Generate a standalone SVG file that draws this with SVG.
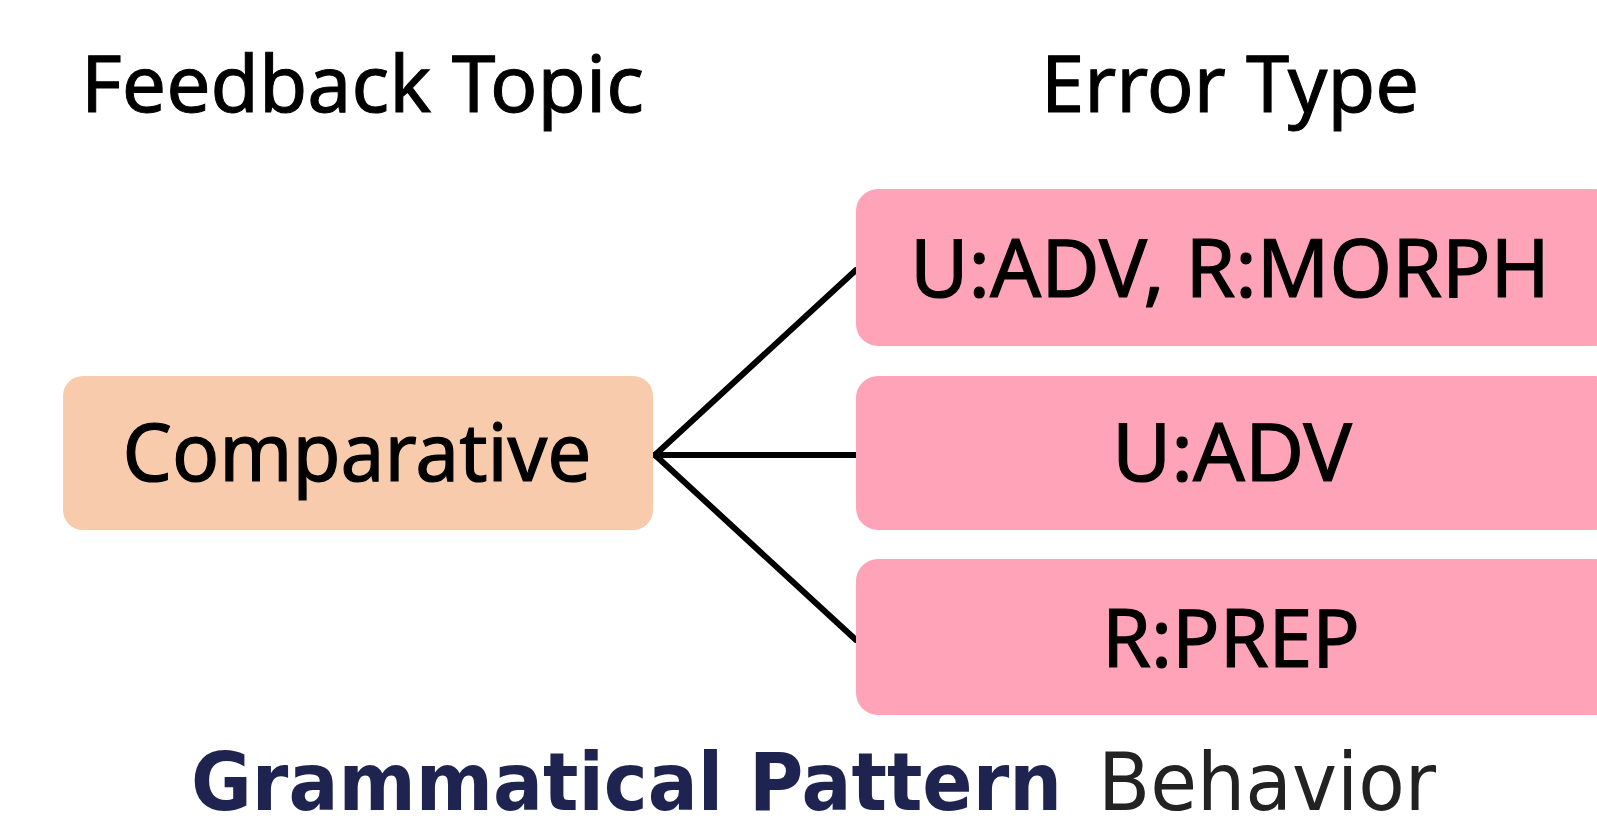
<svg xmlns="http://www.w3.org/2000/svg" width="1597" height="828" viewBox="0 0 1597 828">
  <style>
    .hdr { font-family: "Noto Sans", "Open Sans", sans-serif; font-size: 78px; fill: #000; stroke: #000; stroke-width: 1; }
    .lbl { font-family: "Noto Sans", "Open Sans", sans-serif; font-size: 80px; fill: #000; stroke: #000; stroke-width: 1.2; text-anchor: middle; }
    .topic { fill: #F8CBAD; }
    .err { fill: #FFA3B8; }
    .conn { stroke: #000; stroke-width: 6; fill: none; stroke-linecap: round; }
    .cap { font-family: "DejaVu Sans", Verdana, sans-serif; font-size: 80px; }
  </style>
  <rect width="1597" height="828" fill="#fff"/>

  <!-- column headings -->
  <text class="hdr" x="81" y="112" textLength="563" lengthAdjust="spacingAndGlyphs">Feedback Topic</text>
  <text class="hdr" x="1041" y="112" textLength="378" lengthAdjust="spacingAndGlyphs">Error Type</text>

  <!-- connectors from topic to error types -->
  <g id="connectors">
    <line class="conn" x1="655" y1="455" x2="856" y2="270"/>
    <line class="conn" x1="655" y1="455" x2="856" y2="455"/>
    <line class="conn" x1="655" y1="455" x2="856" y2="640"/>
  </g>

  <g id="topic-comparative">
    <rect class="topic" x="63" y="376" width="590" height="154" rx="20"/>
    <text class="lbl" x="357" y="481" textLength="469" lengthAdjust="spacingAndGlyphs">Comparative</text>
  </g>

  <g id="err-adv-morph">
    <rect class="err" x="856" y="189" width="760" height="157" rx="22"/>
    <text class="lbl" x="1230" y="297" textLength="640" lengthAdjust="spacingAndGlyphs">U:ADV, R:MORPH</text>
  </g>

  <g id="err-adv">
    <rect class="err" x="856" y="376" width="760" height="154" rx="22"/>
    <text class="lbl" x="1232" y="481" textLength="240" lengthAdjust="spacingAndGlyphs">U:ADV</text>
  </g>

  <g id="err-prep">
    <rect class="err" x="856" y="559" width="760" height="156" rx="22"/>
    <text class="lbl" x="1231" y="667" textLength="258" lengthAdjust="spacingAndGlyphs">R:PREP</text>
  </g>

  <!-- caption -->
  <text class="cap" x="191" y="810" font-weight="bold" fill="#1F2350" textLength="871" lengthAdjust="spacingAndGlyphs">Grammatical Pattern</text>
  <text class="cap" x="1098" y="810" fill="#222" textLength="338" lengthAdjust="spacingAndGlyphs">Behavior</text>
</svg>
